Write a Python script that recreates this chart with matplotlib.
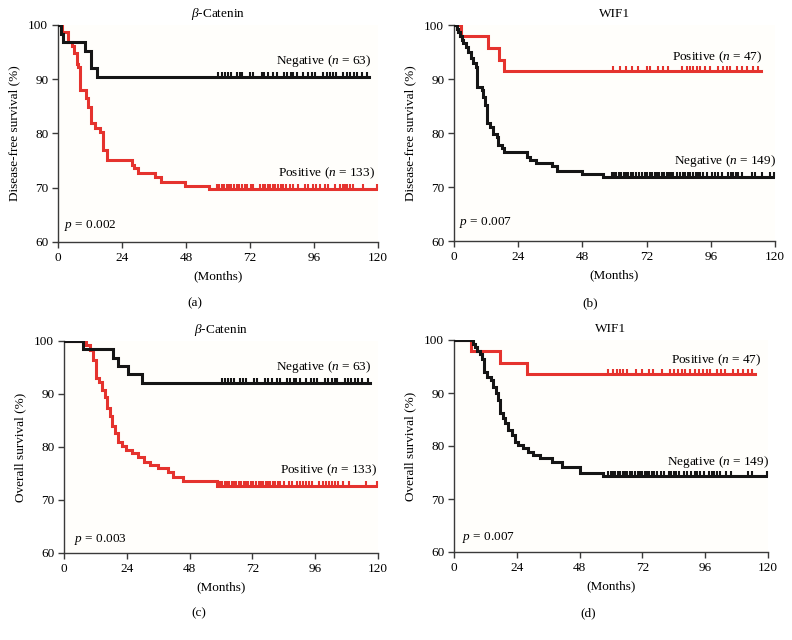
import matplotlib
matplotlib.use("Agg")
import matplotlib.pyplot as plt
import numpy as np

plt.rcParams['font.family'] = ['Liberation Serif', 'DejaVu Serif']
plt.rcParams['mathtext.fontset'] = 'custom'
plt.rcParams['mathtext.rm'] = 'Liberation Serif'
plt.rcParams['mathtext.it'] = 'Liberation Serif:italic'

RED = '#e5332e'
BLACK = '#151515'

# ---------------- data (months, survival %) ----------------
# (a) beta-Catenin, disease-free survival
a_neg_t = [0, 1.1, 2.0, 10.1, 12.4, 14.5]
a_neg_s = [100, 98.4, 96.8, 95.2, 92.1, 90.5]
a_neg_end = 116.7
a_neg_cens = [60.1, 61.4, 62.6, 63.9, 64.7, 67.0, 68.2, 69.1, 72.0, 73.2, 76.4, 77.2,
              78.9, 80.7, 82.0, 84.7, 85.7, 87.2, 88.2, 89.5, 92.0, 93.9, 95.1, 96.4,
              99.5, 100.7, 102.0, 103.2, 104.2, 107.0, 108.2, 109.5, 111.0, 112.0,
              113.9, 115.7]
a_pos_t = [0, 1.5, 3.9, 5.1, 6.0, 7.0, 7.6, 8.25, 10.5, 11.4, 12.25, 13.9, 15.75, 17.0,
           18.25, 27.6, 28.5, 30.0, 36.4, 38.5, 47.6, 56.7]
a_pos_s = [100, 98.8, 96.9, 96.2, 94.8, 92.9, 92.3, 88.0, 86.5, 84.9, 81.9, 81.0, 80.3,
           76.9, 75.2, 74.2, 73.6, 72.8, 71.9, 71.1, 70.4, 69.7]
a_pos_end = 120
a_pos_cens = [59.5, 60.5, 61.5, 62.3, 63.2, 64.0, 65.0, 66.0, 67.0, 68.0, 69.0, 70.0,
              71.0, 72.2, 73.2, 75.7, 76.8, 77.7, 78.6, 79.5, 80.5, 81.5, 82.5, 83.5,
              84.5, 85.5, 87.0, 88.2, 90.1, 92.6, 93.9, 95.8, 96.8, 98.2, 100.1, 101.4,
              103.9, 105.7, 107.0, 107.6, 108.5, 109.5, 110.7, 114.5, 119.5]

# (b) WIF1, disease-free survival
b_pos_t = [0, 2.5, 12.6, 16.8, 18.7]
b_pos_s = [100, 97.9, 95.7, 93.6, 91.5]
b_pos_end = 114.9
b_pos_cens = [59.6, 62.1, 64.2, 66.4, 68.9, 72.0, 73.3, 76.4, 78.3, 80.1, 85.1, 87.0,
              88.2, 89.5, 90.7, 92.0, 93.8, 95.7, 98.8, 100.7, 101.9, 103.2, 105.7,
              107.5, 109.4, 111.9, 113.8]
b_neg_t = [0, 1.0, 1.6, 2.2, 2.9, 3.5, 4.4, 5.4, 6.2, 7.2, 8.2, 8.7, 10.3, 10.7, 11.6,
           12.5, 13.5, 14.5, 16.0, 16.6, 17.8, 18.8, 27.2, 28.5, 30.5, 36.5, 38.5, 47.7,
           55.8]
b_neg_s = [100, 99.3, 98.7, 98.0, 97.3, 96.6, 96.0, 95.0, 93.8, 92.9, 92.3, 88.6, 88.0,
           86.7, 85.2, 81.8, 81.2, 79.9, 79.3, 77.8, 77.2, 76.4, 75.5, 75.0, 74.4, 73.8,
           73.0, 72.4, 71.8]
b_neg_end = 120
b_neg_cens = [58.9, 59.8, 60.7, 61.6, 62.5, 63.4, 64.3, 65.2, 66.1, 67.0, 68.0, 69.0,
              70.1, 71.4, 72.3, 73.2, 74.1, 75.0, 75.9, 76.8, 77.7, 78.6, 79.5, 80.4,
              81.2, 81.9, 83.2, 84.5, 85.7, 86.5, 87.4, 88.2, 89.5, 90.4, 91.2, 92.0,
              93.2, 94.5, 96.3, 97.6, 98.8, 100.1, 102.6, 103.5, 104.4, 105.3, 106.3,
              107.5, 111.3, 112.5, 115.0, 118.1, 119.6]

# (c) beta-Catenin, overall survival
c_neg_t = [0, 7.1, 18.8, 20.5, 24.6, 29.7]
c_neg_s = [100, 98.4, 96.8, 95.2, 93.7, 92.1]
c_neg_end = 116.9
c_neg_cens = [60.2, 61.5, 62.7, 64.0, 65.0, 67.3, 68.5, 69.6, 72.5, 73.8, 76.8, 78.0,
              79.6, 81.4, 82.7, 85.3, 86.3, 87.8, 88.8, 90.0, 92.5, 94.4, 95.6, 96.8,
              99.8, 101.0, 102.3, 103.5, 104.5, 107.2, 108.5, 109.8, 111.2, 112.3,
              114.0, 116.0]
c_pos_t = [0, 8.4, 9.8, 11.0, 12.2, 13.2, 14.4, 15.5, 16.4, 17.5, 18.5, 19.5, 20.7, 22.0,
           23.7, 25.8, 28.4, 30.6, 32.8, 36.0, 39.8, 41.8, 45.3, 58.3]
c_pos_s = [100, 99.2, 98.3, 96.4, 93.0, 92.3, 90.8, 89.5, 87.3, 85.8, 83.9, 82.6, 81.0,
           80.1, 79.4, 78.8, 78.2, 77.2, 76.6, 76.0, 75.3, 74.3, 73.5, 72.6]
c_pos_end = 120
c_pos_cens = [59.6, 60.5, 61.4, 62.3, 63.2, 64.1, 65.0, 65.9, 66.8, 67.7, 68.6, 69.5,
              70.4, 71.3, 72.2, 73.5, 74.4, 75.3, 76.2, 77.1, 78.0, 78.9, 79.8, 80.7,
              81.6, 82.5, 84.0, 86.0, 87.2, 89.0, 90.3, 91.5, 92.5, 93.5, 94.6, 97.5,
              99.0, 100.2, 101.3, 102.4, 103.5, 104.6, 106.5, 109.0, 115.5, 119.5]

# (d) WIF1, overall survival
d_pos_t = [0, 6.4, 17.6, 28.0]
d_pos_s = [100, 97.9, 95.7, 93.6]
d_pos_end = 115.0
d_pos_cens = [59.0, 60.8, 62.2, 63.4, 64.6, 66.0, 69.5, 72.0, 74.5, 76.0, 79.4, 82.5,
              84.0, 85.5, 87.0, 88.4, 90.0, 92.0, 93.7, 95.0, 96.5, 98.0, 100.5,
              102.0, 103.5, 106.5, 108.5, 110.5, 112.2, 113.8]
d_neg_t = [0, 7.1, 8.0, 8.9, 9.9, 10.6, 11.5, 12.7, 14.0, 15.0, 16.0, 16.9, 17.6, 18.6,
           19.5, 20.8, 22.0, 23.3, 24.6, 26.5, 28.4, 30.3, 32.9, 37.3, 41.2, 48.1, 57.1]
d_neg_s = [100, 99.3, 98.7, 98.0, 97.3, 96.5, 94.0, 93.1, 92.5, 91.2, 90.0, 88.7, 86.2,
           85.2, 84.3, 83.0, 82.1, 80.8, 80.2, 79.6, 78.9, 78.3, 77.7, 77.0, 76.1, 75.0,
           74.3]
d_neg_end = 120
d_neg_cens = [59.0, 59.9, 60.8, 61.7, 62.6, 63.5, 64.4, 65.3, 66.2, 67.1, 68.0, 69.3,
              70.2, 71.1, 72.0, 72.9, 73.8, 74.7, 75.6, 76.5, 77.4, 79.0, 80.2, 82.0,
              83.0, 84.0, 85.0, 86.0, 88.0, 89.0, 90.5, 92.0, 93.0, 94.0, 95.5, 97.5,
              98.5, 99.5, 100.5, 101.5, 104.0, 106.0, 112.5, 114.0, 119.8]

titles = ['$\\beta$-Catenin', 'WIF1', '$\\beta$-Catenin', 'WIF1']
ylabels = ['Disease-free survival (%)', 'Disease-free survival (%)',
           'Overall survival (%)', 'Overall survival (%)']
panel_tags = ['(a)', '(b)', '(c)', '(d)']
p_texts = ['0.002', '0.007', '0.003', '0.007']
x_ticks = [0, 24, 48, 72, 96, 120]
y_ticks = [60, 70, 80, 90, 100]

# ---------------- drawing ----------------
fig = plt.figure(figsize=(7.92, 6.4), dpi=100)
W, H = 792, 640
rects = [(58, 242, 378, 25), (454, 241, 775, 25), (64, 553, 378, 341), (454, 552, 768, 340)]
tag_pos = [(195, 303), (590, 303), (199, 613), (588, 613)]

panels = [
    [(a_neg_t, a_neg_s, a_neg_end, a_neg_cens, BLACK), (a_pos_t, a_pos_s, a_pos_end, a_pos_cens, RED)],
    [(b_neg_t, b_neg_s, b_neg_end, b_neg_cens, BLACK), (b_pos_t, b_pos_s, b_pos_end, b_pos_cens, RED)],
    [(c_neg_t, c_neg_s, c_neg_end, c_neg_cens, BLACK), (c_pos_t, c_pos_s, c_pos_end, c_pos_cens, RED)],
    [(d_neg_t, d_neg_s, d_neg_end, d_neg_cens, BLACK), (d_pos_t, d_pos_s, d_pos_end, d_pos_cens, RED)],
]

labels = [
    [(117.7, 93.4, 'Negative ($n$ = 63)'), (118.9, 72.6, 'Positive ($n$ = 133)'), (2.3, 63.1)],
    [(115.4, 94.1, 'Positive ($n$ = 47)'), (120.4, 74.8, 'Negative ($n$ = 149)'), (2.0, 63.4)],
    [(117.6, 95.0, 'Negative ($n$ = 63)'), (119.5, 75.7, 'Positive ($n$ = 133)'), (3.8, 62.6)],
    [(117.3, 96.2, 'Positive ($n$ = 47)'), (120.5, 76.9, 'Negative ($n$ = 149)'), (2.9, 62.7)],
]

FS = 9.5
for i, (l, b, r, t) in enumerate(rects):
    ax = fig.add_axes([l / W, 1 - b / H, (r - l) / W, (b - t) / H])
    ax.set_facecolor('#fffefb')
    for (tt, ss, end, cens, col) in panels[i]:
        tx = list(tt) + [end]
        sx = list(ss) + [ss[-1]]
        ax.step(tx, sx, where='post', color=col, lw=2.2, solid_joinstyle='miter',
                zorder=3 if col == BLACK else 2)
        ax.plot(cens, [ss[-1] + 0.35] * len(cens), ls='none', marker='|', ms=4.2, mew=1.5,
                color=col, zorder=3 if col == BLACK else 2)
    ax.set_xlim(0, 120)
    ax.set_ylim(60, 100)
    ax.set_xticks(x_ticks)
    ax.set_yticks(y_ticks)
    for s in ['top', 'right']:
        ax.spines[s].set_visible(False)
    for s in ['left', 'bottom']:
        ax.spines[s].set_color('#3a3a3a')
        ax.spines[s].set_linewidth(1.0)
    ax.tick_params(direction='out', length=4, width=1.0, color='#3a3a3a',
                   labelsize=FS, pad=3)
    ax.set_title(titles[i], fontsize=FS, pad=6)
    ax.set_xlabel('(Months)', fontsize=FS, labelpad=5)
    ax.set_ylabel(ylabels[i], fontsize=FS, labelpad=6)
    lb = labels[i]
    for (x, y, txt) in lb[:2]:
        ax.text(x, y, txt, ha='right', va='center', fontsize=FS)
    ax.text(lb[2][0], lb[2][1], '$p$ = ' + p_texts[i], ha='left', va='center', fontsize=FS)
    fig.text(tag_pos[i][0] / W, 1 - tag_pos[i][1] / H, panel_tags[i], ha='center',
             va='center', fontsize=FS)

fig.savefig('out.png', dpi=100)
